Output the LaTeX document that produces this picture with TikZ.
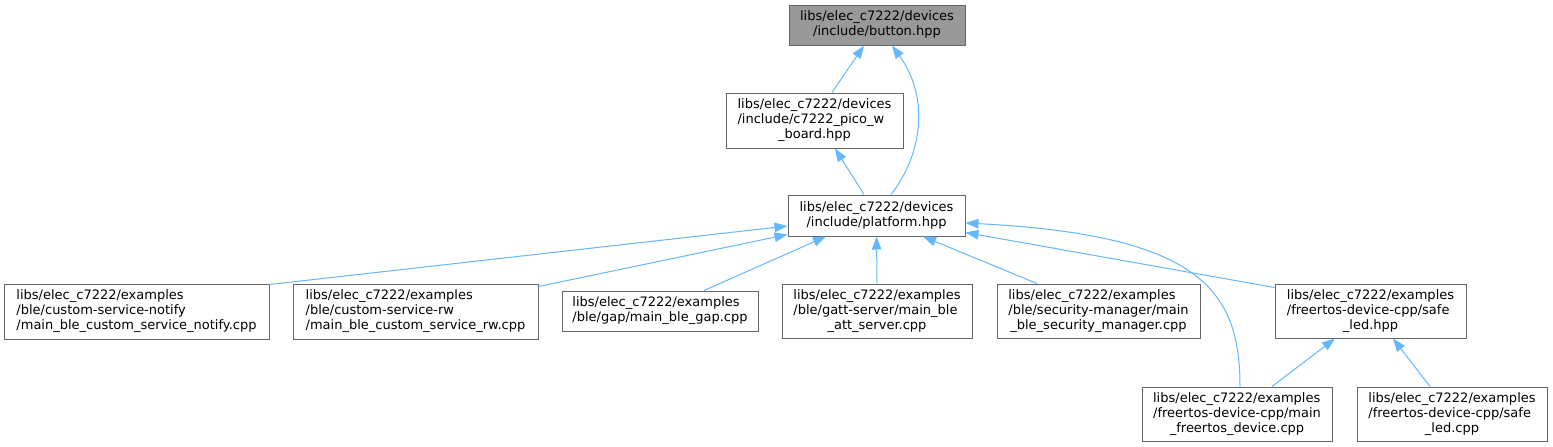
\documentclass[tikz,border=0pt]{standalone}
\usepackage{fontspec}
\setmainfont{DejaVu Sans}
\usetikzlibrary{arrows.meta}
\definecolor{edgeblue}{HTML}{63B8FF}
\definecolor{boxline}{HTML}{666666}
\definecolor{boxfill}{HTML}{999999}
\newcommand{\lbl}[2]{\begin{tabular}{@{}l@{}}#1\\\multicolumn{1}{@{}c@{}}{#2}\end{tabular}}
\tikzset{
  filebox/.style={draw=boxline, fill=white, line width=1pt, inner sep=0pt, font=\fontsize{13}{15}\selectfont},
  edge/.style={draw=edgeblue, line width=1pt, -{Triangle[length=13pt,width=9.5pt,fill=edgeblue]}},
}
\begin{document}
\begin{tikzpicture}[x=1pt,y=-1pt]
\fill[white] (0,0) rectangle (1553,447);
\useasboundingbox (0,0) rectangle (1553,447);

\node[filebox, fill=boxfill, minimum width=176pt, minimum height=40pt] (button) at (877,25)
  {\lbl{libs/elec\_c7222/devices}{/include/button.hpp}};
\node[filebox, minimum width=177pt, minimum height=55pt] (pico) at (814.5,120.5)
  {\lbl{libs/elec\_c7222/devices\\/include/c7222\_pico\_w}{\_board.hpp}};
\node[filebox, minimum width=177pt, minimum height=41pt] (platform) at (876.5,215.5)
  {\lbl{libs/elec\_c7222/devices}{/include/platform.hpp}};

\node[filebox, minimum width=265pt, minimum height=55pt] (notify) at (136.5,311.5)
  {\lbl{libs/elec\_c7222/examples\\/ble/custom-service-notify}{/main\_ble\_custom\_service\_notify.cpp}};
\node[filebox, minimum width=245pt, minimum height=55pt] (rw) at (415.5,311.5)
  {\lbl{libs/elec\_c7222/examples\\/ble/custom-service-rw}{/main\_ble\_custom\_service\_rw.cpp}};
\node[filebox, minimum width=196pt, minimum height=40pt] (gap) at (660,311)
  {\lbl{libs/elec\_c7222/examples}{/ble/gap/main\_ble\_gap.cpp}};
\node[filebox, minimum width=190pt, minimum height=54pt] (gatt) at (877,311)
  {\lbl{libs/elec\_c7222/examples\\/ble/gatt-server/main\_ble}{\_att\_server.cpp}};
\node[filebox, minimum width=203pt, minimum height=54pt] (security) at (1098.5,311)
  {\lbl{libs/elec\_c7222/examples\\/ble/security-manager/main}{\_ble\_security\_manager.cpp}};
\node[filebox, minimum width=191pt, minimum height=54pt] (safehpp) at (1370.5,311)
  {\lbl{libs/elec\_c7222/examples\\/freertos-device-cpp/safe}{\_led.hpp}};
\node[filebox, minimum width=190pt, minimum height=54pt] (mainfr) at (1237,414)
  {\lbl{libs/elec\_c7222/examples\\/freertos-device-cpp/main}{\_freertos\_device.cpp}};
\node[filebox, minimum width=190pt, minimum height=54pt] (safecpp) at (1452,414)
  {\lbl{libs/elec\_c7222/examples\\/freertos-device-cpp/safe}{\_led.cpp}};

% edges (arrow at the included file)
\draw[edge] ([xshift=17.5pt]pico.north) -- ([xshift=-13pt]button.south);
\draw[edge] ([xshift=14.5pt]platform.north) .. controls (922,155) and (930,98) .. ([xshift=15pt]button.south);
\draw[edge] ([xshift=-12.5pt]platform.north) -- ([xshift=20.5pt]pico.south);
\draw[edge] ([yshift=-1pt]notify.north east) -- ([yshift=-10.5pt]platform.west);
\draw[edge] ([yshift=-3pt]rw.north east) -- ([yshift=2pt]platform.south west);
\draw[edge] ([xshift=44pt]gap.north) -- ([xshift=-50.5pt]platform.south);
\draw[edge] (gatt.north) -- (platform.south);
\draw[edge] ([xshift=-61.5pt]security.north) -- ([xshift=46.5pt]platform.south);
\draw[edge] ([xshift=3pt]mainfr.north) .. controls (1240,290) and (1200,235) .. ([yshift=-7.5pt]platform.east);
\draw[edge] ([yshift=-4pt]safehpp.north west) -- ([yshift=4pt]platform.south east);
\draw[edge] ([xshift=35pt]mainfr.north) -- ([xshift=-35.5pt]safehpp.south);
\draw[edge] ([xshift=-22pt]safecpp.north) -- ([xshift=22.5pt]safehpp.south);
\end{tikzpicture}
\end{document}
